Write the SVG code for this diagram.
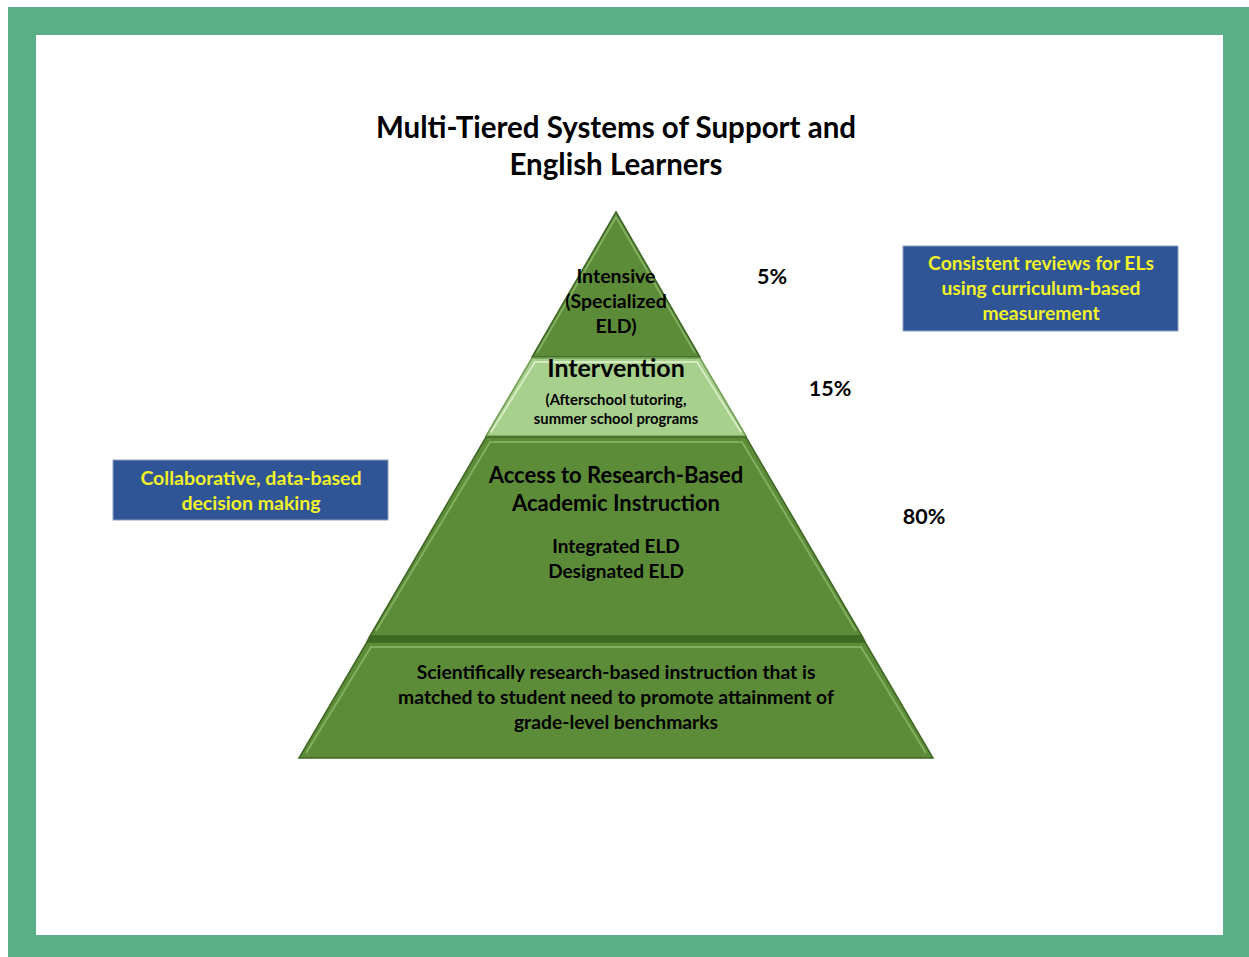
<svg xmlns="http://www.w3.org/2000/svg" width="1249" height="957" viewBox="0 0 1249 957">
<defs>
<style>
.t{font-family:Lato,"Open Sans","Liberation Sans",sans-serif;font-weight:bold;text-anchor:middle;fill:#000}
.y{font-family:Lato,"Open Sans","Liberation Sans",sans-serif;font-weight:bold;text-anchor:middle;fill:#f2f22a}
.dk{fill:#5d8c38;stroke:#3e6622;stroke-width:1.5}
.lt{fill:#a8d08d;stroke:#6e9a50;stroke-width:1.5}
.hl{fill:none;stroke:#8bb86a;stroke-width:2;opacity:0.8}
.box{fill:#2f5597;stroke:#8fa0c0;stroke-width:1}
</style>
</defs>
<rect x="8" y="7" width="1241" height="950" fill="#5aae88"/>
<rect x="36" y="35" width="1187" height="900" fill="#ffffff"/>
<text class="t" x="616" y="138" font-size="29.5">Multi-Tiered Systems of Support and</text>
<text class="t" x="616" y="175" font-size="29.5">English Learners</text>
<polygon points="369,636 863,636 866,642 366,642" fill="#3f6a24"/>
<g id="tier-top">
<polygon class="dk" points="616,212 700,357 532,357"/>
<polyline class="hl" points="537,353 616,217 695,353"/>
<text class="t" x="616" y="283" font-size="19.5">Intensive</text>
<text class="t" x="616" y="308" font-size="19.5">(Specialized</text>
<text class="t" x="616" y="333" font-size="19.5">ELD)</text>
</g>
<g id="tier-intervention">
<polygon class="lt" points="532,358 700,358 746,436 486,436"/>
<polyline fill="none" stroke="#d4ebc4" stroke-width="2" points="491,432 535,362 697,362 741,432"/>
<text class="t" x="616" y="377" font-size="25">Intervention</text>
<text class="t" x="616" y="405" font-size="14.8">(Afterschool tutoring,</text>
<text class="t" x="616" y="424" font-size="14.8">summer school programs</text>
</g>
<g id="tier-core">
<polygon class="dk" points="486,437 746,437 862,636 370,636"/>
<polyline class="hl" points="376,631 490,442 742,442 856,631"/>
<text class="t" x="616" y="483" font-size="22">Access to Research-Based</text>
<text class="t" x="616" y="511" font-size="22">Academic Instruction</text>
<text class="t" x="616" y="553" font-size="19">Integrated ELD</text>
<text class="t" x="616" y="578" font-size="19">Designated ELD</text>
</g>
<g id="tier-base">
<polygon class="dk" points="367,642 865,642 933,758 299,758"/>
<polyline class="hl" points="306,753 371,647 861,647 926,753"/>
<text class="t" x="616" y="679" font-size="19.3">Scientifically research-based instruction that is</text>
<text class="t" x="616" y="704" font-size="19.3">matched to student need to promote attainment of</text>
<text class="t" x="616" y="729" font-size="19.3">grade-level benchmarks</text>
</g>
<g id="pct-5"><text class="t" x="772" y="284" font-size="21.5">5%</text></g>
<g id="pct-15"><text class="t" x="830" y="396" font-size="21.5">15%</text></g>
<g id="pct-80"><text class="t" x="924" y="524" font-size="21.5">80%</text></g>
<g id="box-left">
<rect class="box" x="113" y="460" width="275" height="60"/>
<text class="y" x="251" y="485" font-size="19.5">Collaborative, data-based</text>
<text class="y" x="251" y="510" font-size="19.5">decision making</text>
</g>
<g id="box-right">
<rect class="box" x="903" y="246" width="275" height="85"/>
<text class="y" x="1041" y="270" font-size="19.3">Consistent reviews for ELs</text>
<text class="y" x="1041" y="295" font-size="19.3">using curriculum-based</text>
<text class="y" x="1041" y="320" font-size="19.3">measurement</text>
</g>
<g id="connectors"></g>
</svg>
